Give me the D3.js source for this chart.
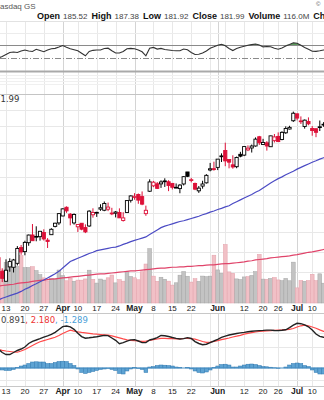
<!DOCTYPE html>
<html><head><meta charset="utf-8">
<script src="https://cdn.jsdelivr.net/npm/d3@7"></script>
<style>html,body{margin:0;padding:0;background:#fff;overflow:hidden}</style>
</head><body>
<svg id="c" width="324" height="400"></svg>
<script>
// ---------- DATA ----------
const dates = ["2023-03-08","2023-03-09","2023-03-10","2023-03-13","2023-03-14","2023-03-15","2023-03-16","2023-03-17","2023-03-20","2023-03-21","2023-03-22","2023-03-23","2023-03-24","2023-03-27","2023-03-28","2023-03-29","2023-03-30","2023-03-31",
"2023-04-03","2023-04-04","2023-04-05","2023-04-06","2023-04-10","2023-04-11","2023-04-12","2023-04-13","2023-04-14","2023-04-17","2023-04-18","2023-04-19","2023-04-20","2023-04-21","2023-04-24","2023-04-25","2023-04-26","2023-04-27","2023-04-28",
"2023-05-01","2023-05-02","2023-05-03","2023-05-04","2023-05-05","2023-05-08","2023-05-09","2023-05-10","2023-05-11","2023-05-12","2023-05-15","2023-05-16","2023-05-17","2023-05-18","2023-05-19","2023-05-22","2023-05-23","2023-05-24","2023-05-25","2023-05-26","2023-05-30","2023-05-31",
"2023-06-01","2023-06-02","2023-06-05","2023-06-06","2023-06-07","2023-06-08","2023-06-09","2023-06-12","2023-06-13","2023-06-14","2023-06-15","2023-06-16","2023-06-20","2023-06-21","2023-06-22","2023-06-23","2023-06-26","2023-06-27","2023-06-28","2023-06-29","2023-06-30",
"2023-07-03","2023-07-05","2023-07-06","2023-07-07","2023-07-10","2023-07-11","2023-07-12","2023-07-13","2023-07-14"];

const open = [152.81,153.56,150.21,147.81,151.28,151.19,152.16,156.08,155.07,157.32,159.30,158.83,158.86,159.94,157.97,159.37,161.53,162.44,
164.27,166.60,164.74,162.43,161.42,162.35,161.22,161.63,164.59,165.09,166.10,165.80,166.09,165.05,165.00,165.19,163.06,165.19,168.49,
169.28,170.09,169.50,164.89,170.98,172.48,173.05,173.02,173.85,173.62,173.16,171.99,171.71,173.00,176.39,173.98,173.13,171.09,172.41,173.32,176.96,177.33,
177.70,181.03,182.63,179.97,178.44,177.90,181.50,181.27,182.80,183.37,183.96,186.73,184.41,184.90,183.74,185.55,186.83,185.89,187.93,189.08,191.63,
193.78,191.57,189.84,191.41,189.26,189.16,189.68,190.50,190.23];

const high = [153.47,154.54,150.94,153.14,153.40,153.25,156.46,156.74,157.82,159.40,162.14,161.55,160.34,160.77,158.49,161.05,162.47,165.00,
166.29,166.84,165.05,164.96,162.03,162.36,162.06,165.80,166.32,165.39,167.41,168.16,167.87,166.45,165.60,166.31,165.28,168.56,169.85,
170.45,170.35,170.92,167.04,174.30,173.85,173.54,174.03,174.59,174.06,173.21,173.14,172.93,175.24,176.39,174.71,173.38,172.42,173.90,175.77,178.99,179.35,
180.12,181.78,184.95,180.12,181.21,180.84,182.23,183.89,184.15,184.39,186.52,186.99,186.10,185.41,187.05,187.56,188.05,188.39,189.90,190.07,194.48,
193.88,192.98,192.02,192.67,189.99,189.30,191.70,191.19,191.18];

const low = [151.83,150.23,147.61,147.70,150.10,149.92,151.64,154.28,154.15,156.54,157.81,157.68,157.85,157.87,155.98,159.35,161.27,161.91,
164.22,165.11,161.80,162.00,160.08,160.51,159.78,161.42,163.82,164.03,165.65,165.54,165.56,164.49,163.89,163.73,162.80,165.19,167.88,
168.64,167.54,167.16,164.31,170.76,172.11,171.60,171.90,172.17,171.00,171.47,171.80,170.42,172.58,174.94,173.45,171.28,170.52,171.69,173.11,176.57,176.76,
176.93,179.26,178.04,177.43,177.32,177.46,180.63,180.97,182.44,182.02,183.78,184.27,184.41,182.59,183.67,185.01,185.23,185.67,187.60,188.94,191.26,
191.76,190.62,189.20,190.24,187.04,186.60,188.47,189.78,189.63];

const close = [152.87,150.59,148.50,150.47,152.59,152.99,155.85,155.00,157.40,159.28,157.83,158.93,160.25,158.28,157.65,160.77,162.36,164.90,
166.17,165.63,163.76,164.66,162.03,160.80,160.10,165.56,165.21,165.23,166.47,167.63,166.65,165.02,165.33,163.77,163.76,168.41,169.68,
169.59,168.54,167.45,165.79,173.57,173.50,171.77,173.56,173.75,172.57,172.07,172.07,172.69,175.05,175.16,174.20,171.56,171.84,172.99,175.43,177.30,177.25,
180.09,180.95,179.58,179.21,177.82,180.57,180.96,183.79,183.31,183.95,186.01,184.92,185.01,183.96,187.00,186.68,185.27,188.06,189.25,189.59,193.97,
192.46,191.33,191.81,190.68,188.61,188.08,189.77,190.54,190.69];

const volumeM = [47.2,53.8,68.5,84.5,73.7,77.2,76.3,98.9,73.6,73.9,75.7,67.6,59.2,52.4,45.9,51.3,49.5,68.7,
57.0,46.3,51.5,45.4,47.7,47.6,50.1,68.4,49.4,41.5,49.9,47.7,52.5,58.3,41.9,48.7,45.5,64.9,55.3,
52.5,48.4,65.1,81.2,113.3,56.0,45.3,53.7,49.5,45.5,37.3,42.1,58.0,65.5,55.8,43.6,50.7,45.1,56.1,54.8,56.0,99.6,
68.9,61.9,121.9,64.8,61.9,50.2,48.9,54.3,54.9,57.5,65.4,101.3,49.8,49.5,51.2,53.1,48.1,46.5,51.2,46.3,85.1,
31.5,46.9,45.2,46.8,59.9,46.6,60.8,41.3,41.6];

const sma50 = [143.2,143.4,143.8,144.1,144.4,144.7,145.0,145.4,145.9,146.3,146.8,147.2,147.7,148.1,148.6,149.1,149.6,150.2,
151.0,151.8,152.6,153.0,153.4,153.8,154.2,154.6,154.9,155.3,155.5,155.7,155.9,156.1,156.2,156.5,156.9,157.2,157.6,
157.9,158.2,158.5,158.8,159.4,160.0,160.6,161.2,161.6,161.9,162.2,162.5,162.8,163.0,163.3,163.6,163.9,164.2,164.6,164.9,165.3,165.6,
166.0,166.3,166.7,167.0,167.6,168.1,168.6,169.1,169.6,170.1,170.7,171.2,171.9,172.6,173.3,173.9,174.5,175.0,175.6,176.1,176.6,
177.2,177.7,178.2,178.7,179.2,179.6,180.1,180.5,181.0];

const sma200 = [146.5,146.6,146.8,146.9,147.0,147.1,147.3,147.4,147.5,147.6,147.8,147.9,148.0,148.1,148.2,148.3,148.4,148.5,
148.6,148.7,148.8,148.9,149.0,149.1,149.2,149.3,149.4,149.5,149.6,149.6,149.7,149.8,149.9,150.0,150.1,150.2,150.3,
150.3,150.4,150.5,150.6,150.7,150.8,150.9,151.0,151.0,151.1,151.2,151.2,151.3,151.3,151.4,151.4,151.5,151.6,151.6,151.7,151.8,151.8,
151.9,152.0,152.1,152.1,152.2,152.3,152.4,152.5,152.7,152.8,153.0,153.1,153.2,153.3,153.5,153.6,153.7,153.8,153.9,154.0,154.2,
154.3,154.5,154.7,154.9,155.0,155.2,155.4,155.6,155.8];

const rsi = [48,50,52.3,55.4,58.5,59.2,58.5,60.8,62.3,60.8,60,63.4,61.5,59.7,62.3,64.2,64.8,66.9,
69.2,66.5,64.2,62.8,61.1,57.2,53.4,60,61.8,62.3,62.3,64.6,65.1,61.2,57.7,57.7,60,64.3,64.8,
64.2,62.3,59.5,53.4,64.9,66.3,63.7,64.8,63.1,62.3,61.5,61.2,61.2,63.8,62.6,58.6,55.5,55.8,57.7,60.8,64.9,67.2,
69.7,71.2,68.8,64.6,61.5,64.5,66.6,68.2,69.7,70.6,71.5,70,67.1,67.7,67.2,64.9,63.4,65.4,68.5,70.8,73.5,
72.6,69.5,66.2,63.4,60.3,60.2,61.1,62.2,62.6];

const macd = [2.2,1.9,1.55,1.35,1.35,1.55,1.75,1.9,2.1,2.45,2.67,2.8,2.94,3.09,3.22,3.37,3.57,3.85,
4.14,4.2,4.12,3.87,3.48,3.14,2.98,3.02,3.07,3.13,3.2,3.26,3.24,3.0,2.77,2.43,2.54,2.68,2.81,
2.84,2.7,2.54,2.55,2.8,2.9,3.03,3.25,3.22,3.15,3.05,2.96,2.9,2.94,3.04,2.95,2.64,2.45,2.33,2.38,2.54,2.7,
2.87,3.07,3.19,3.3,3.38,3.45,3.51,3.56,3.62,3.67,3.71,3.74,3.76,3.79,3.79,3.75,3.74,3.77,3.82,4.03,4.28,
4.47,4.43,4.32,4.12,3.8,3.4,3.16,3.07,3.02];

const signal = [1.9,1.85,1.77,1.7,1.65,1.6,1.58,1.7,1.85,2.05,2.25,2.45,2.63,2.74,2.85,2.96,3.07,3.25,
3.45,3.63,3.78,3.69,3.62,3.56,3.51,3.46,3.41,3.38,3.35,3.32,3.29,3.21,3.11,3.01,2.91,2.82,2.77,
2.73,2.7,2.66,2.68,2.75,2.83,2.9,2.97,2.96,2.94,2.93,2.91,2.92,2.95,2.96,2.93,2.89,2.78,2.65,2.56,2.59,2.66,
2.73,2.84,2.92,3.0,3.1,3.18,3.27,3.38,3.47,3.54,3.61,3.65,3.69,3.72,3.74,3.77,3.79,3.81,3.84,3.86,3.95,
4.1,4.22,4.28,4.22,4.1,3.97,3.81,3.67,3.6];

const hist = [-0.1,-0.15,-0.2,-0.25,-0.25,-0.15,0.05,0.2,0.3,0.45,0.6,0.62,0.6,0.6,0.45,0.45,0.55,0.65,
0.68,0.65,0.45,0.25,-0.1,-0.45,-0.55,-0.45,-0.35,-0.25,-0.15,-0.1,-0.05,-0.15,-0.25,-0.55,-0.6,-0.3,-0.1,
0.05,-0.05,-0.15,-0.45,0.1,0.15,0.25,0.3,0.28,0.25,0.2,0.1,0.05,0.0,0.05,-0.1,-0.3,-0.45,-0.5,-0.4,-0.2,0.05,
0.2,0.35,0.38,0.3,0.1,0.1,0.2,0.3,0.38,0.4,0.35,0.25,0.15,0.12,0.08,0.02,-0.03,0.0,0.1,0.3,0.45,
0.5,0.45,0.25,0.15,-0.2,-0.45,-0.6,-0.6,-0.6];

const tickDates  = ["2023-03-13","2023-03-20","2023-03-27","2023-04-03","2023-04-10","2023-04-17","2023-04-24","2023-05-01","2023-05-08","2023-05-15","2023-05-22","2023-06-01","2023-06-12","2023-06-20","2023-06-26","2023-07-03","2023-07-10"];
const tickLabels = ["13","20","27","Apr","10","17","24","May","8","15","22","Jun","12","20","26","Jul","10"];
const gridDates  = ["2023-03-13","2023-03-20","2023-03-27","2023-04-03","2023-04-10","2023-04-17","2023-04-24","2023-05-01","2023-05-08","2023-05-15","2023-05-22","2023-05-30","2023-06-01","2023-06-05","2023-06-12","2023-06-20","2023-06-26","2023-07-03","2023-07-10"];
const priceGrid = [145,150,155,160,165,170,175,180,185,190,195,200];
const rsiLevels = [70,50];
const macdGrid = [-1.2,2.1,3.5];

const titleText = "asdaq GS";
const hdrLabels = ["Open","High","Low","Close","Volume","Ch"];
const hdrValues = ["185.52","187.38","181.92","181.99","116.0M",""];
const priceLegend = "1.99";
const macdLegend = ["0.891",", 2.180",", -1.289"];

// ---------- CHART ----------
const svg = d3.select("#c");
const W = 324;
const n = dates.length;
const di = d => dates.indexOf(d);
const x = d3.scaleLinear().domain([di("2023-03-13"), di("2023-07-03")]).range([6, 297.1]);
const step = x(1) - x(0);

const P = {rsiTop:21, rsiBot:71, priceTop:72, priceBot:303, macdTop:313, macdBot:386};
const yR = d3.scaleLinear().domain([50,70]).range([58,45]);
const yP = d3.scaleLog().domain([142.7,200.1]).range([303,94]);
const yV = d3.scaleLinear().domain([0,100]).range([303,255]);
const yM = d3.scaleLinear().domain([0,4]).range([368,328]);

const gGrid = svg.append("g").attr("shape-rendering","crispEdges");
const isMonth = l => isNaN(+l);
[[P.rsiTop,P.rsiBot],[P.priceTop,P.priceBot],[P.macdTop,P.macdBot]].forEach(([t,b])=>{
  gGrid.selectAll(null).data(gridDates).join("line")
    .attr("x1",d=>Math.round(x(di(d)))+0.5).attr("x2",d=>Math.round(x(di(d)))+0.5)
    .attr("y1",t).attr("y2",b)
    .attr("stroke",d=>{const k=tickDates.indexOf(d);return (k>=0&&isMonth(tickLabels[k]))?"#d4d4d4":"#e8e8e8";});
});
gGrid.append("line").attr("x1",0).attr("x2",W).attr("y1",21.5).attr("y2",21.5).attr("stroke","#e2e2e2");
gGrid.append("line").attr("x1",0).attr("x2",W).attr("y1",33.5).attr("y2",33.5).attr("stroke","#ececec");
gGrid.append("line").attr("x1",0).attr("x2",W).attr("y1",Math.round(yR(rsiLevels[0]))+0.5).attr("y2",Math.round(yR(rsiLevels[0]))+0.5).attr("stroke","#8a8a8a");
gGrid.append("line").attr("x1",0).attr("x2",W).attr("y1",Math.round(yR(rsiLevels[1]))+0.5).attr("y2",Math.round(yR(rsiLevels[1]))+0.5).attr("stroke","#8a8a8a").attr("stroke-dasharray","6,2,1,2");
svg.append("rect").attr("x",0).attr("y",70.5).attr("width",W).attr("height",2).attr("fill","#a9a9a9");
// light lines in the price panel header band
gGrid.selectAll(null).data([75,78,81,84]).join("line")
  .attr("x1",0).attr("x2",W).attr("y1",d=>d+0.5).attr("y2",d=>d+0.5).attr("stroke","#f0f0f0");
gGrid.selectAll(null).data(priceGrid).join("line")
  .attr("x1",0).attr("x2",W).attr("y1",d=>Math.round(yP(d))+0.5).attr("y2",d=>Math.round(yP(d))+0.5)
  .attr("stroke",d=>d===200?"#c4c4c4":"#e8e8e8");
gGrid.selectAll(null).data(macdGrid).join("line")
  .attr("x1",0).attr("x2",W).attr("y1",d=>Math.round(yM(d))+0.5).attr("y2",d=>Math.round(yM(d))+0.5).attr("stroke","#e8e8e8");
gGrid.append("line").attr("x1",0).attr("x2",W).attr("y1",P.macdTop+0.5).attr("y2",P.macdTop+0.5).attr("stroke","#c8c8c8");
gGrid.append("line").attr("x1",0).attr("x2",W).attr("y1",P.macdBot+0.5).attr("y2",P.macdBot+0.5).attr("stroke","#c8c8c8");

// header
svg.append("text").attr("x",0).attr("y",9).attr("font-family","Liberation Sans, Arial").attr("font-size",8).attr("fill","#555").text(titleText);
svg.append("text").attr("x",316).attr("y",6).attr("font-family","Liberation Sans, Arial").attr("font-size",6).attr("fill","#555").text("©");
const hdr = svg.append("text").attr("x",37).attr("y",19).attr("font-family","Liberation Sans, Arial");
hdrLabels.forEach((l,k)=>{
  hdr.append("tspan").attr("dx",k?4:0).attr("font-weight","bold").attr("font-size",9).attr("fill","#111").text(l);
  if (hdrValues[k]) hdr.append("tspan").attr("dx",3).attr("font-size",8).attr("fill","#444").text(hdrValues[k]);
});

// RSI
const rsiLine = d3.line().x((d,i)=>x(i)).y(d=>yR(d));
const rsiArea = d3.area().x((d,i)=>x(i)).y0(yR(70)).y1(d=>yR(Math.max(d,70)));
svg.append("path").attr("d",rsiArea(rsi)).attr("fill","#5d9a5d");
svg.append("path").attr("d",rsiLine(rsi)).attr("fill","none").attr("stroke","#333").attr("stroke-width",1.1);

// price legend
svg.append("text").attr("x",0.5).attr("y",102).attr("font-family","DejaVu Sans").attr("font-size",8.5).attr("fill","#333").text(priceLegend);

// volume
const up = i => i===0 || close[i] >= close[i-1];
svg.append("g").selectAll("rect").data(volumeM).join("rect")
  .attr("x",(d,i)=>x(i)-step/2).attr("width",step).attr("y",d=>yV(d)).attr("height",d=>yV(0)-yV(d))
  .attr("fill",(d,i)=>up(i)?"#c3c3c3":"#f1c0c6").attr("stroke",(d,i)=>up(i)?"#a4a4a4":"#e3a0aa").attr("stroke-width",0.5);

// moving averages
const maLine = d3.line().x((d,i)=>x(i)).y(d=>yP(d));
svg.append("path").attr("d",maLine(sma200)).attr("fill","none").attr("stroke","#e0446a").attr("stroke-width",1.2);
svg.append("path").attr("d",maLine(sma50)).attr("fill","none").attr("stroke","#4b4bc4").attr("stroke-width",1.2);

// candles
const gC = svg.append("g");
d3.range(n).forEach(i=>{
  const col = up(i) ? "#000" : "#dd1038";
  const hollow = close[i] > open[i];
  const cx = x(i);
  gC.append("line").attr("x1",cx).attr("x2",cx).attr("y1",yP(high[i])).attr("y2",yP(low[i])).attr("stroke",col).attr("stroke-width",1);
  const top = yP(Math.max(open[i],close[i])), bot = yP(Math.min(open[i],close[i]));
  gC.append("rect").attr("x",cx-1.6).attr("width",3.2).attr("y",top).attr("height",Math.max(0.8,bot-top))
    .attr("fill",hollow?"#fff":col).attr("stroke",col).attr("stroke-width",0.9);
});

// axis labels
[311,394].forEach(yy=>{
  svg.append("g").selectAll("text").data(tickDates).join("text")
    .attr("x",d=>x(di(d))).attr("y",yy).attr("text-anchor","middle")
    .attr("font-family","Liberation Sans, Arial").attr("font-size",(d,k)=>isMonth(tickLabels[k])?8.5:8)
    .attr("font-weight",(d,k)=>isMonth(tickLabels[k])?"bold":"normal").attr("fill","#222")
    .text((d,k)=>tickLabels[k]);
});

// MACD
svg.append("g").selectAll("rect").data(hist).join("rect")
  .attr("x",(d,i)=>x(i)-step/2).attr("width",step)
  .attr("y",d=>Math.min(yM(d),yM(0))).attr("height",d=>Math.abs(yM(d)-yM(0)))
  .attr("fill","#5ea3d3").attr("stroke","#2f78b0").attr("stroke-width",0.5);
svg.append("line").attr("x1",0).attr("x2",W).attr("y1",yM(0)).attr("y2",yM(0)).attr("stroke","#4a90c4").attr("stroke-width",1);
const mLine = d3.line().x((d,i)=>x(i)).y(d=>yM(d));
svg.append("path").attr("d",mLine(signal)).attr("fill","none").attr("stroke","#ff4a4a").attr("stroke-width",1.2);
svg.append("path").attr("d",mLine(macd)).attr("fill","none").attr("stroke","#222").attr("stroke-width",1.4);
const ml = svg.append("text").attr("x",1).attr("y",323).attr("font-family","DejaVu Sans").attr("font-size",8.5);
const mlCols = ["#444","#ee3333","#4aa0d8"];
macdLegend.forEach((t,k)=>ml.append("tspan").attr("fill",mlCols[k]).text(t));
</script>
</body></html>
